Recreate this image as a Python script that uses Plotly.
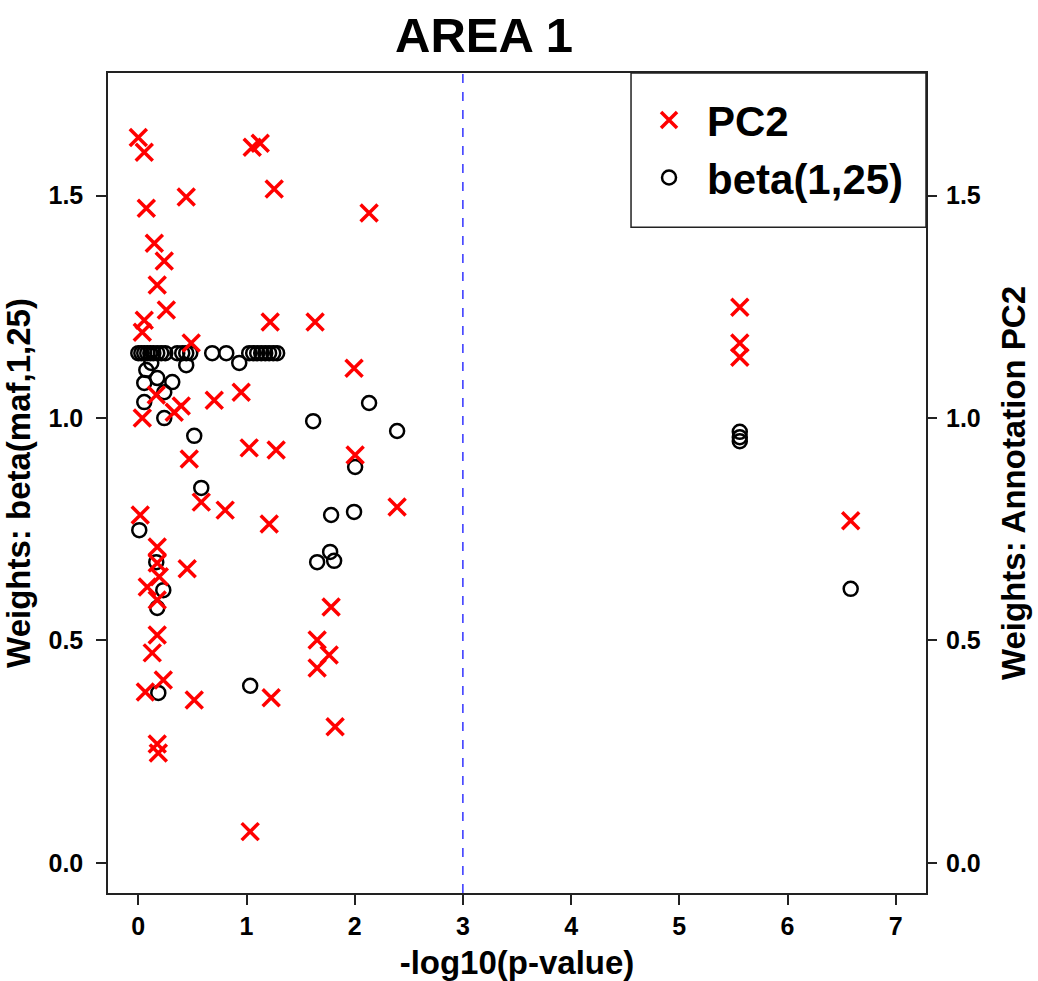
import plotly.graph_objects as go

# -log10(p-value) and weights for each variant, PC2 annotation weights
pc2_x = [0.00, 0.055, 0.074, 0.443, 0.148, 0.240, 0.175, 0.259, 0.055, 0.037,
         1.053, 1.127, 1.256, 1.219, 0.489, 0.166, 0.397, 0.332, 0.702, 0.951,
         0.037, 1.634, 1.994, 2.133, 1.025, 1.274, 2.004, 0.471, 0.582, 0.803,
         1.210, 2.392, 0.018, 0.175, 0.175, 0.452, 0.194, 0.083, 0.175, 0.175,
         0.129, 0.231, 0.065, 0.517, 1.228, 0.175, 0.185, 1.034, 1.782, 1.653,
         1.764, 1.653, 1.819, 5.559, 5.559, 5.559, 6.584]
pc2_w = [1.631, 1.598, 1.472, 1.497, 1.393, 1.353, 1.299, 1.243, 1.220, 1.193,
         1.609, 1.618, 1.515, 1.216, 1.169, 1.052, 1.027, 1.013, 1.040, 1.058,
         1.000, 1.216, 1.112, 1.461, 0.933, 0.928, 0.917, 0.908, 0.811, 0.793,
         0.762, 0.800, 0.782, 0.710, 0.674, 0.661, 0.643, 0.620, 0.591, 0.512,
         0.472, 0.411, 0.384, 0.366, 0.371, 0.267, 0.247, 0.070, 0.575, 0.501,
         0.467, 0.438, 0.306, 1.249, 1.169, 1.137, 0.769]

# beta(maf, 1, 25) weights
beta_x = [0.000, 0.028, 0.055, 0.083, 0.111, 0.139, 0.175, 0.212, 0.249, 0.360,
          0.406, 0.443, 0.480, 0.683, 0.813, 1.025, 1.062, 1.099, 1.136, 1.173,
          1.209, 1.247, 1.283,
          0.074, 0.120, 0.175, 0.055, 0.314, 0.240, 0.055, 0.240, 0.443, 0.933,
          0.517, 0.582, 0.009, 0.166, 0.231, 0.175, 0.185, 1.034, 1.616, 1.653,
          1.773, 1.782, 1.810, 1.994, 2.004, 2.133, 2.392, 5.559, 5.559, 5.559,
          6.584]
beta_w = [1.146, 1.146, 1.146, 1.146, 1.146, 1.146, 1.146, 1.146, 1.146, 1.146,
          1.146, 1.146, 1.146, 1.146, 1.146, 1.146, 1.146, 1.146, 1.146, 1.146,
          1.146, 1.146, 1.146,
          1.108, 1.124, 1.090, 1.079, 1.081, 1.058, 1.036, 1.000, 1.119, 1.124,
          0.960, 0.843, 0.748, 0.676, 0.613, 0.573, 0.382, 0.398, 0.993, 0.676,
          0.699, 0.782, 0.679, 0.789, 0.890, 1.034, 0.971, 0.969, 0.957, 0.948,
          0.616]

x_ticks = [0, 1, 2, 3, 4, 5, 6, 7]
y_ticks = [0.0, 0.5, 1.0, 1.5]
threshold = 3

FONT = "Liberation Sans"
INK = "#222222"

fig = go.Figure()
fig.add_trace(go.Scatter(
    x=beta_x, y=beta_w, mode="markers", name="beta(1,25)", legendrank=2,
    marker=dict(symbol="circle-open", size=14, color="black",
                line=dict(width=2.5, color="black")),
))
fig.add_trace(go.Scatter(
    x=pc2_x, y=pc2_w, mode="markers", name="PC2", legendrank=1, yaxis="y2",
    marker=dict(symbol="x-thin-open", size=17, color="red",
                line=dict(width=3.5, color="red")),
))

# significance threshold
fig.add_shape(type="line", xref="x", yref="paper", x0=threshold, x1=threshold,
              y0=0, y1=1, line=dict(color="blue", width=1.2, dash="dash"))

# legend frame
fig.add_shape(type="rect", xref="paper", yref="paper", x0=0.6394, x1=1,
              y0=0.812, y1=1, layer="above", fillcolor="white",
              line=dict(color=INK, width=1.5))

axis_common = dict(
    ticks="outside", ticklen=10, tickwidth=1.5, tickcolor=INK,
    showgrid=False, zeroline=False, automargin=False,
    tickfont=dict(family=FONT, size=25, color="black", weight="bold"),
)
yrange = [-0.068, 1.776]
title_font = dict(family=FONT, size=33, color="black", weight="bold")

fig.update_layout(
    width=1038, height=981,
    margin=dict(l=108, r=112, t=73, b=88),
    plot_bgcolor="white", paper_bgcolor="white",
    title=dict(text="AREA 1", x=484 / 1038, xanchor="center", xref="container",
               y=1 - 35 / 981, yanchor="middle", yref="container",
               font=dict(family=FONT, size=49, color="black", weight="bold")),
    xaxis=dict(range=[-0.28, 7.28], tickvals=x_ticks, showline=True,
               linecolor=INK, linewidth=1.5, mirror=True,
               title=dict(text="-log10(p-value)", standoff=12, font=title_font),
               **axis_common),
    yaxis=dict(range=yrange, tickvals=y_ticks, tickformat=".1f", showline=True,
               linecolor=INK, linewidth=1.5, mirror=True, ticklabelstandoff=8,
               title=dict(text="Weights: beta(maf,1,25)", standoff=10, font=title_font),
               **axis_common),
    yaxis2=dict(range=yrange, tickvals=y_ticks, tickformat=".1f", overlaying="y",
                side="right", showline=False, ticklabelstandoff=4,
                title=dict(text="Weights: Annotation PC2", standoff=22, font=title_font),
                **axis_common),
    legend=dict(x=0.6394, xanchor="left", y=0.984, yanchor="top",
                borderwidth=0, bgcolor="rgba(0,0,0,0)",
                font=dict(family=FONT, size=42, color="black", weight="bold"),
                itemwidth=66),
    showlegend=True,
)

fig.write_html("out.html")
